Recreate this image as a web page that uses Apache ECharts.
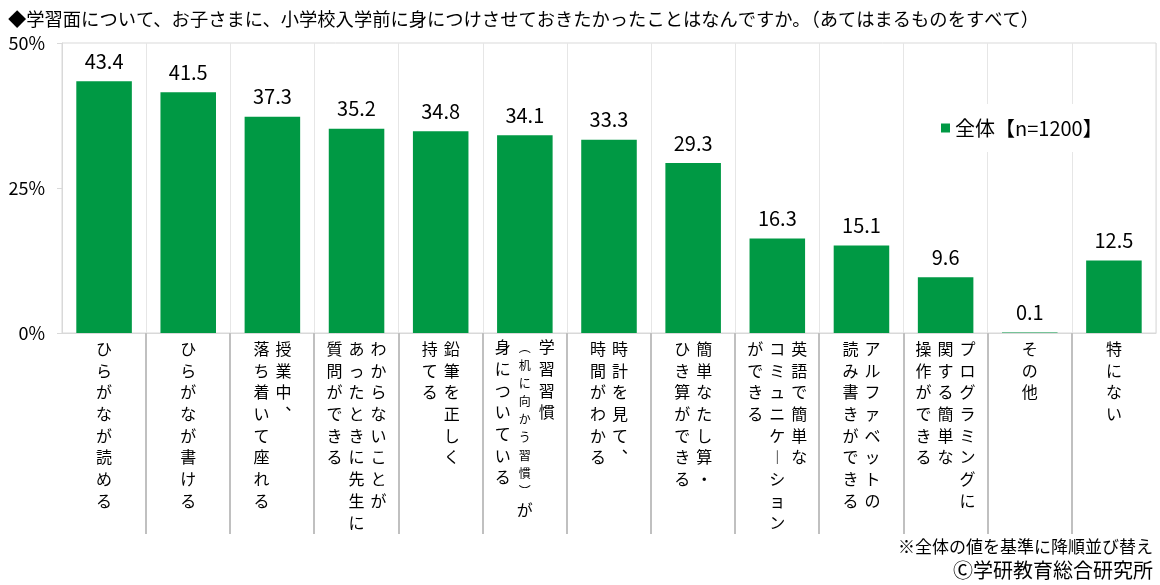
<!DOCTYPE html>
<html><head><meta charset="utf-8">
<script src="https://cdn.jsdelivr.net/npm/echarts@6/dist/echarts.min.js"></script>
<style>html,body{margin:0;padding:0;background:#fff}#c{width:1160px;height:585px}</style>
</head><body><div id="c"></div>
<script>
const titleText = '◆学習面について、お子さまに、小学校入学前に身につけさせておきたかったことはなんですか。（あてはまるものをすべて）';
const seriesName = '全体【n=1200】';
const categories = [
  'ひらがなが読める', 'ひらがなが書ける', '授業中、落ち着いて座れる',
  'わからないことがあったときに先生に質問ができる', '鉛筆を正しく持てる',
  '学習習慣（机に向かう習慣）が身についている', '時計を見て、時間がわかる',
  '簡単なたし算・ひき算ができる', '英語で簡単なコミュニケーションができる',
  'アルファベットの読み書きができる', 'プログラミングに関する簡単な操作ができる',
  'その他', '特にない'
];
// vertical label columns, right-to-left reading order; [..] = small text
const labelColumns = [
  ['ひらがなが読める'],
  ['ひらがなが書ける'],
  ['授業中︑', '落ち着いて座れる'],
  ['わからないことが', 'あったときに先生に', '質問ができる'],
  ['鉛筆を正しく', '持てる'],
  ['学習習慣', '[︵机に向かう習慣︶]が', '身についている'],
  ['時計を見て︑', '時間がわかる'],
  ['簡単なたし算・', 'ひき算ができる'],
  ['英語で簡単な', 'コミュニケ︱ション', 'ができる'],
  ['アルファベットの', '読み書きができる'],
  ['プログラミングに', '関する簡単な', '操作ができる'],
  ['その他'],
  ['特にない']
];
const values = [43.4, 41.5, 37.3, 35.2, 34.8, 34.1, 33.3, 29.3, 16.3, 15.1, 9.6, 0.1, 12.5];
const yTickLabels = ['0%', '25%', '50%'];
const footNote = '※全体の値を基準に降順並び替え';
const credit = 'Ⓒ学研教育総合研究所';

const FONT = '"Noto Sans CJK JP", "Noto Sans", sans-serif';
const PITCH = 21.7, CELL = 22, SUB = 6;

function parseColumn(str) {
  const out = []; let small = false;
  for (const ch of Array.from(str)) {
    if (ch === '[') { small = true; continue; }
    if (ch === ']') { small = false; continue; }
    out.push({ ch, small });
  }
  return out;
}
function buildLabel(idx) {
  const cols = labelColumns[idx].map(parseColumn).reverse();
  const hasSmall = cols.some(c => c.some(t => t.small));
  const sub = hasSmall ? SUB : 1;
  const steps = cols.map(c => c.some(t => t.small) ? 5 : sub);
  const off = hasSmall ? 2 : 0;
  let nLines = 0;
  cols.forEach((c, i) => { nLines = Math.max(nLines, (c.length - 1) * steps[i] + off + 1); });
  const sfx = hasSmall ? 's' : '';
  const lines = [];
  for (let L = 0; L < nLines; L++) {
    let line = '';
    cols.forEach((c, i) => {
      const r = L - off;
      let tok = null;
      if (r >= 0 && r % steps[i] === 0 && r / steps[i] < c.length) tok = c[r / steps[i]];
      if (tok) line += '{' + (tok.small ? 'm' : 'n') + sfx + '|' + tok.ch + '}';
      else line += '{b' + sfx + '|　}';
    });
    lines.push(line);
  }
  return lines.join('\n');
}
const cell = (fs, lh) => ({ width: CELL, align: 'center', fontSize: fs, lineHeight: lh, fontFamily: FONT, color: '#000' });

const chart = echarts.init(document.getElementById('c'));
chart.setOption({
  backgroundColor: '#fff',
  animation: false,
  title: {
    text: titleText, left: 3, top: 5,
    textStyle: { fontSize: 18.3, fontWeight: 'normal', color: '#000', fontFamily: FONT }
  },
  legend: {
    data: [{ name: seriesName, icon: 'rect' }],
    left: 925, top: 104, padding: [14, 30, 14, 16],
    backgroundColor: '#fff', itemWidth: 9, itemHeight: 9,
    textStyle: { fontSize: 20, color: '#000', fontFamily: FONT }
  },
  grid: { left: 62, right: 4, top: 43, bottom: 252, show: true, borderColor: '#d9d9d9', borderWidth: 1, containLabel: false },
  xAxis: {
    type: 'category', data: categories,
    axisLine: { lineStyle: { color: '#d9d9d9' } },
    axisTick: { show: false },
    splitLine: { show: true, lineStyle: { color: '#e6e6e6' } },
    axisLabel: {
      interval: 0, margin: 5, verticalAlign: 'top',
      formatter: (v, i) => buildLabel(i),
      rich: {
        n: cell(16, PITCH), b: cell(16, PITCH),
        ns: cell(16, PITCH / SUB), bs: cell(16, PITCH / SUB), ms: cell(12, PITCH / SUB)
      }
    }
  },
  yAxis: {
    type: 'value', min: 0, max: 50, interval: 25,
    axisLine: { show: true, lineStyle: { color: '#d9d9d9' } },
    axisTick: { show: true, length: 5, lineStyle: { color: '#d9d9d9' } },
    splitLine: { show: false },
    axisLabel: {
      margin: 17, fontSize: 18, color: '#000', fontFamily: FONT,
      formatter: v => yTickLabels[Math.round(v / 25)]
    }
  },
  series: [
    {
      name: seriesName, type: 'bar', data: values, barWidth: '66%',
      itemStyle: { color: '#009944' },
      label: {
        show: true, position: 'top', distance: 10, fontSize: 20, color: '#000', fontFamily: FONT,
        formatter: p => p.value.toFixed(1)
      },
      z: 2
    },
    {
      type: 'custom', silent: true, clip: false, z: 1,
      data: categories.slice(1).map((_, i) => [i + 1, 0]),
      renderItem: (params, api) => {
        const p = api.coord([api.value(0), 0]);
        const band = api.size([1, 0])[0];
        const x = Math.round(p[0] - band / 2);
        return { type: 'line', shape: { x1: x, y1: p[1], x2: x, y2: p[1] + 201 }, style: { stroke: '#c0c0c0', lineWidth: 2 } };
      }
    }
  ],
  graphic: [
    { type: 'text', right: 7, top: 538, style: { text: footNote, fontSize: 17, fill: '#000', fontFamily: FONT } },
    { type: 'text', right: 7, top: 560, style: { text: credit, fontSize: 20, fill: '#000', fontFamily: FONT } }
  ]
});
</script></body></html>
